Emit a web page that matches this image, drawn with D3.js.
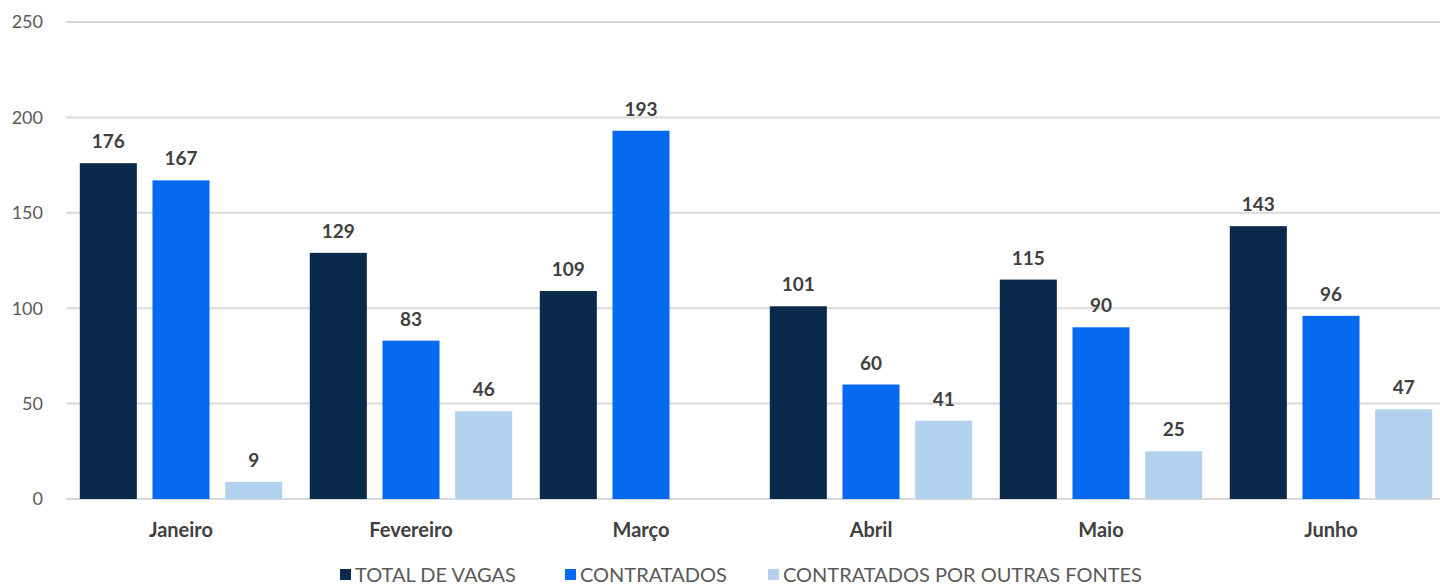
<!DOCTYPE html>
<html>
<head>
<meta charset="utf-8">
<script src="https://cdn.jsdelivr.net/npm/d3@7"></script>
<style>
  body { margin: 0; background: #fff; }
  svg { display: block; }
  .tick-label { font-family: Lato, "Open Sans", sans-serif; fill: #595959; }
</style>
</head>
<body>
<svg></svg>
<script>
var months = ["Janeiro", "Fevereiro", "Março", "Abril", "Maio", "Junho"];
var seriesNames = ["TOTAL DE VAGAS", "CONTRATADOS", "CONTRATADOS POR OUTRAS FONTES"];
var totalVagas = [176, 129, 109, 101, 115, 143];
var contratados = [167, 83, 193, 60, 90, 96];
var outrasFontes = [9, 46, null, 41, 25, 47];
var yTicks = [0, 50, 100, 150, 200, 250];

var width = 1440,
    height = 586,
    svg = d3.select("svg").attr("width", width).attr("height", height),
    color = d3.scaleOrdinal().domain(seriesNames).range(["#0b2a4b", "#066af0", "#b1d1ef"]);

var seriesValues = [totalVagas, contratados, outrasFontes];

var x0 = d3.scaleBand()
    .domain(months)
    .range([66, 1446])
    .paddingInner(0.12)
    .paddingOuter(0.06);

var x1 = d3.scaleBand()
    .domain(seriesNames)
    .range([0, x0.bandwidth()])
    .paddingInner(0.215);

var y = d3.scaleLinear()
    .domain([0, 250])
    .range([499, 22]);

// gridlines
svg.append("g")
    .selectAll("line")
    .data(yTicks)
    .enter().append("line")
    .attr("x1", 66)
    .attr("x2", width)
    .attr("y1", function(d) { return y(d); })
    .attr("y2", function(d) { return y(d); })
    .attr("stroke", "#d9d9d9")
    .attr("stroke-width", 2);

// y axis labels
svg.append("g")
    .selectAll("text")
    .data(yTicks)
    .enter().append("text")
    .attr("class", "tick-label")
    .attr("x", 43)
    .attr("y", function(d) { return y(d); })
    .attr("dy", "0.36em")
    .attr("text-anchor", "end")
    .style("font-size", "18px")
    .text(function(d) { return d; });

var rows = [];
months.forEach(function(m, i) {
    seriesNames.forEach(function(s, j) {
        if (seriesValues[j][i] != null) {
            rows.push({month: m, series: s, value: seriesValues[j][i]});
        }
    });
});

var bars = svg.append("g")
    .selectAll("g")
    .data(rows)
    .enter().append("g")
    .attr("transform", function(d) { return "translate(" + (x0(d.month) + x1(d.series)) + ",0)"; });

bars.append("rect")
    .attr("x", 0)
    .attr("y", function(d) { return y(d.value); })
    .attr("width", x1.bandwidth())
    .attr("height", function(d) { return y(0) - y(d.value); })
    .attr("fill", function(d) { return color(d.series); });

bars.append("text")
    .attr("x", x1.bandwidth() / 2)
    .attr("y", function(d) { return y(d.value) - 15; })
    .attr("text-anchor", "middle")
    .style("font-family", "Lato, sans-serif")
    .style("font-weight", "bold")
    .style("font-size", "19px")
    .attr("fill", "#404040")
    .text(function(d) { return d.value; });

// month labels
svg.append("g")
    .selectAll("text")
    .data(months)
    .enter().append("text")
    .attr("x", function(d) { return x0(d) + x0.bandwidth() / 2; })
    .attr("y", 537)
    .attr("text-anchor", "middle")
    .style("font-family", "Lato, sans-serif")
    .style("font-weight", "bold")
    .style("font-size", "20px")
    .attr("fill", "#404040")
    .text(function(d) { return d; });

// legend
var legendX = [340, 565, 768];
var legend = svg.append("g")
    .selectAll("g")
    .data(seriesNames)
    .enter().append("g")
    .attr("transform", function(d, i) { return "translate(" + legendX[i] + ",569)"; });

legend.append("rect")
    .attr("width", 11)
    .attr("height", 11)
    .attr("fill", color);

legend.append("text")
    .attr("x", 15)
    .attr("y", 13)
    .style("font-family", "Lato, sans-serif")
    .style("font-size", "20px")
    .attr("fill", "#595959")
    .text(function(d) { return d; });
</script>
</body>
</html>
